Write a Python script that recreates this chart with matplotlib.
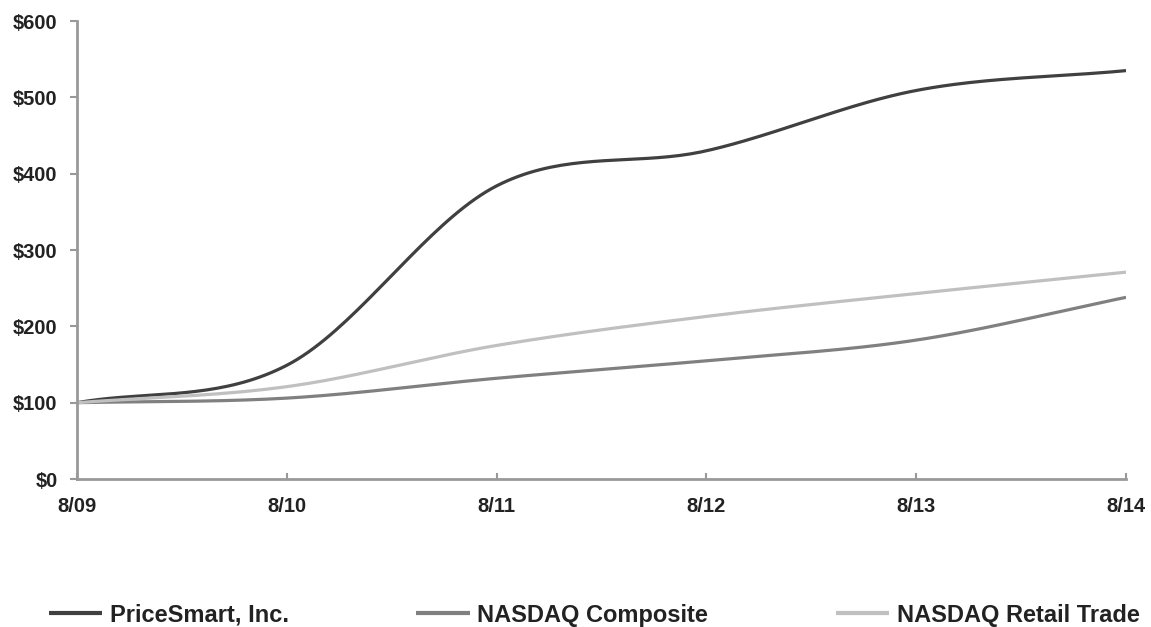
import numpy as np
import matplotlib.pyplot as plt

# -----------------------------
# Data (cumulative total return, $100 invested 8/09)
# -----------------------------
periods = ["8/09", "8/10", "8/11", "8/12", "8/13", "8/14"]
pricesmart = [100, 149, 384, 430, 509, 535]
nasdaq_composite = [100, 106, 132, 155, 182, 238]
nasdaq_retail = [100, 121, 175, 213, 243, 271]

series_names = ["PriceSmart, Inc.", "NASDAQ Composite", "NASDAQ Retail Trade"]
series_colors = ["#404040", "#808080", "#c0c0c0"]


def smooth(xs, ys, n=40):
    # Catmull-Rom style smoothing, like a spreadsheet "smoothed line"
    xs = np.asarray(xs, float)
    ys = np.asarray(ys, float)
    px = np.concatenate([[2 * xs[0] - xs[1]], xs, [2 * xs[-1] - xs[-2]]])
    py = np.concatenate([[2 * ys[0] - ys[1]], ys, [2 * ys[-1] - ys[-2]]])
    out_x, out_y = [], []
    t = np.linspace(0, 1, n)
    for i in range(1, len(px) - 2):
        p0, p1, p2, p3 = px[i - 1], px[i], px[i + 1], px[i + 2]
        q0, q1, q2, q3 = py[i - 1], py[i], py[i + 1], py[i + 2]
        bx = [p1, p1 + (p2 - p0) / 6, p2 - (p3 - p1) / 6, p2]
        by = [q1, q1 + (q2 - q0) / 6, q2 - (q3 - q1) / 6, q2]
        for arr, b in ((out_x, bx), (out_y, by)):
            arr.extend((1 - t) ** 3 * b[0] + 3 * (1 - t) ** 2 * t * b[1]
                       + 3 * (1 - t) * t ** 2 * b[2] + t ** 3 * b[3])
    return out_x, out_y


plt.rcParams['font.family'] = ['Liberation Sans', 'DejaVu Sans']
plt.rcParams['font.weight'] = 'bold'

fig = plt.figure(figsize=(11.51, 6.27), dpi=100)
ax = fig.add_axes([0.0669, 0.2360, 0.9114, 0.7305])

x = np.arange(len(periods))
for vals, name, col in zip([pricesmart, nasdaq_composite, nasdaq_retail],
                           series_names, series_colors):
    sx, sy = smooth(x, vals)
    ax.plot(sx, sy, color=col, lw=2.3, label=name, solid_capstyle='butt')

ax.set_xlim(0, len(periods) - 1)
ax.set_ylim(0, 600)
ax.set_xticks(x)
ax.set_xticklabels(periods)
ax.set_yticks(range(0, 601, 100))
ax.set_yticklabels([f"${v}" for v in range(0, 601, 100)])

for side in ["top", "right"]:
    ax.spines[side].set_visible(False)
for side in ["left", "bottom"]:
    ax.spines[side].set_color("#999999")
    ax.spines[side].set_linewidth(2)
ax.tick_params(axis='y', direction='out', length=5, width=1.5, color="#999999",
               labelsize=14.5, pad=9)
ax.tick_params(axis='x', direction='in', length=4, width=1.5, color="#999999",
               labelsize=14.5, pad=13)
for lab in ax.get_xticklabels() + ax.get_yticklabels():
    lab.set_fontweight('bold')
    lab.set_color('#222222')

handles, labels = ax.get_legend_handles_labels()
leg = fig.legend(handles, labels, loc='center left',
                 bbox_to_anchor=(0.0426, 0.0191), borderaxespad=0, borderpad=0,
                 ncol=3, frameon=False, handlelength=2.25,
                 handletextpad=0.33, columnspacing=5.4,
                 prop={'weight': 'bold', 'size': 17})
for txt in leg.get_texts():
    txt.set_color('#222222')
for ln in leg.get_lines():
    ln.set_linewidth(3)

fig.savefig("out.png", dpi=100)
